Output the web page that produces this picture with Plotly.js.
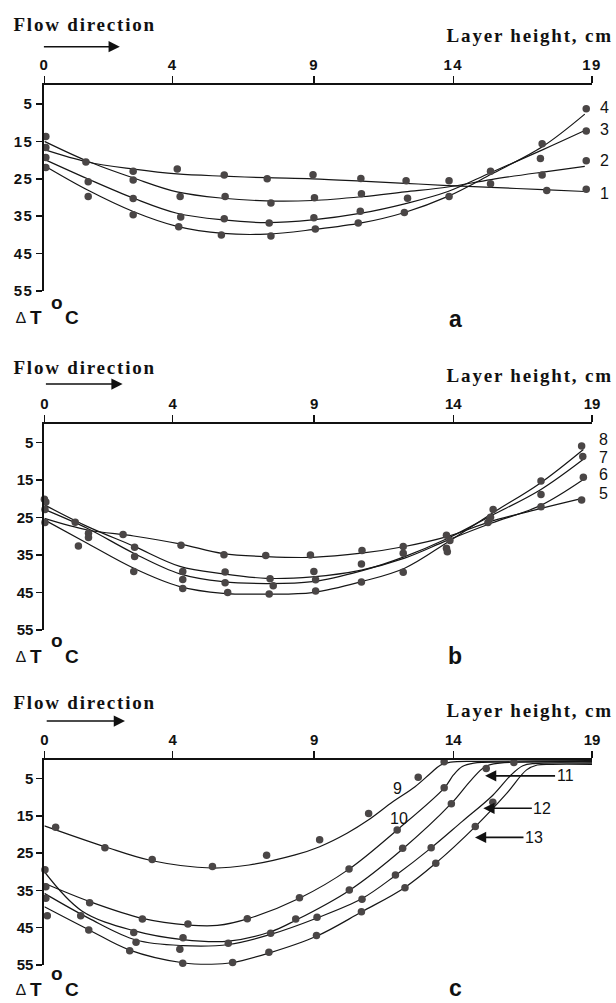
<!DOCTYPE html>
<html>
<head>
<meta charset="utf-8">
<script src="https://cdn.plot.ly/plotly-3.0.1.min.js"></script>
<style>
html,body{margin:0;padding:0;background:#fff;}
#chart{width:616px;height:1003px;}
.xtick text,.ytick text{letter-spacing:1.5px;}
</style>
</head>
<body>
<div id="chart"></div>
<script>
// ---------- tick labels ----------
const xTickLabels = ['0', '4', '9', '14', '19'];
const xTickValues = [0, 4.45, 9.36, 14.19, 19];
const yTickValues = [5, 15, 25, 35, 45, 55];

// ---------- panel a : fitted curves ----------
const aCurveX = [0, 1.5, 3.1, 4.6, 6.2, 7.7, 9.3, 11, 12.5, 14, 15.5, 17.3, 18.75];
const aCurve1 = [17.2, 20.5, 22.4, 23.7, 24.3, 24.7, 25.0, 25.6, 26.2, 26.8, 27.3, 27.9, 28.4];
const aCurve2 = [15.0, 20.3, 24.8, 28.5, 30.2, 30.9, 30.8, 29.8, 28.5, 27.2, 25.2, 23.2, 21.7];
const aCurve3 = [19.8, 25.0, 30.2, 34.2, 36.0, 36.7, 36.0, 34.2, 31.7, 28.4, 23.3, 17.2, 12.1];
const aCurve4 = [21.5, 28.0, 33.8, 37.7, 39.6, 39.8, 38.6, 36.8, 34.0, 29.7, 23.8, 16.3, 7.7];
// panel a : measured points
const aPts1X = [0.05, 1.44, 3.08, 4.61, 6.24, 7.73, 9.32, 10.98, 12.55, 14.04, 17.43, 18.8];
const aPts1Y = [16.6, 20.5, 23.0, 22.4, 24.0, 25.0, 23.9, 24.9, 25.5, 25.5, 28.1, 27.8];
const aPts2X = [0.05, 3.08, 4.71, 6.27, 7.86, 9.37, 11.0, 15.48, 17.27, 18.8];
const aPts2Y = [13.7, 25.3, 29.7, 29.7, 31.5, 30.1, 29.0, 26.3, 24.0, 20.2];
const aPts3X = [0.05, 1.52, 3.08, 4.73, 6.24, 7.80, 9.35, 10.96, 12.60, 15.48, 17.21, 18.8];
const aPts3Y = [19.3, 25.8, 30.3, 35.2, 35.7, 36.8, 35.4, 33.7, 30.2, 23.0, 19.6, 12.2];
const aPts4X = [0.05, 1.52, 3.08, 4.66, 6.14, 7.86, 9.40, 10.89, 12.49, 14.04, 17.27, 18.8];
const aPts4Y = [22.0, 29.7, 34.6, 37.8, 40.0, 40.3, 38.4, 36.8, 34.0, 29.7, 15.6, 6.3];

// ---------- panel b : fitted curves ----------
const bCurveX = [0, 1.5, 3.1, 4.7, 6.2, 7.7, 9.3, 11, 12.5, 14, 15.5, 17.2, 18.7];
const bCurve5 = [25.2, 28.3, 29.9, 32.0, 34.6, 35.4, 35.6, 34.5, 32.7, 30.0, 26.0, 22.6, 19.8];
const bCurve6 = [21.6, 27.4, 32.6, 38.0, 40.0, 41.2, 40.8, 39.0, 35.8, 31.0, 26.5, 21.8, 14.8];
const bCurve7 = [22.8, 27.9, 34.5, 40.0, 42.1, 42.6, 42.1, 39.2, 35.4, 30.5, 24.5, 17.6, 9.4];
const bCurve8 = [25.6, 31.9, 38.5, 43.4, 45.2, 45.4, 45.0, 42.1, 38.5, 31.5, 24.0, 15.8, 6.8];
// panel b : measured points
const bPts5X = [0.02, 1.07, 2.73, 4.74, 6.23, 7.68, 9.23, 11.02, 12.45, 13.95, 15.39, 17.23, 18.64];
const bPts5Y = [26.3, 26.2, 29.5, 32.4, 34.9, 35.1, 35.0, 33.8, 32.7, 29.7, 26.3, 22.1, 20.3];
const bPts6X = [0.0, 1.53, 3.13, 4.80, 6.27, 7.83, 9.35, 11.0, 12.45, 14.07, 15.48, 18.7];
const bPts6Y = [20.1, 29.2, 32.9, 39.4, 39.5, 41.3, 39.4, 37.4, 34.5, 31.1, 24.9, 14.2];
const bPts7X = [0.05, 1.53, 3.13, 4.80, 6.27, 7.94, 9.41, 13.98, 15.57, 17.23, 18.68];
const bPts7Y = [20.8, 30.3, 35.4, 41.5, 42.4, 43.2, 41.6, 34.1, 22.8, 18.8, 8.7];
const bPts8X = [0.02, 1.18, 3.10, 4.80, 6.36, 7.80, 9.41, 11.0, 12.45, 13.95, 17.23, 18.64];
const bPts8Y = [22.8, 32.6, 39.4, 43.9, 45.0, 45.4, 44.6, 42.2, 39.6, 33.2, 15.2, 5.9];

// ---------- panel c : fitted curves ----------
const cCurve9X  = [0, 2.1, 3.7, 5.8, 7.1, 8.7, 9.55, 10.5, 11.25, 12.1, 12.86, 13.4, 13.75, 14.1, 15, 17, 19];
const cCurve9Y  = [17.7, 23.3, 27.0, 29.0, 28.2, 25.5, 23.3, 19.7, 16.1, 11.2, 7.2, 3.6, 1.4, 0.6, 0.4, 0.3, 0.2];
const cCurve10X = [0, 1.57, 3.4, 5.0, 6.0, 7.1, 8.85, 10.57, 12.24, 13.87, 14.2, 14.5, 14.9, 16, 19];
const cCurve10Y = [33.1, 38.0, 42.5, 44.3, 44.4, 42.5, 37.1, 29.3, 18.8, 7.6, 4.0, 1.8, 0.9, 0.6, 0.4];
const cCurve11X = [0, 1.3, 3.1, 4.8, 6.4, 7.85, 8.72, 10.58, 12.43, 14.12, 14.8, 15.3, 15.8, 19];
const cCurve11Y = [30.0, 40.5, 45.8, 48.2, 48.6, 46.1, 43.0, 35.0, 23.9, 11.7, 5.5, 1.8, 0.9, 0.6];
const cCurve12X = [0, 1.55, 3.18, 4.8, 6.4, 7.85, 9.46, 11.02, 12.18, 13.42, 14.5, 15.56, 16.2, 16.6, 17.0, 19];
const cCurve12Y = [35.8, 42.5, 48.3, 49.8, 49.5, 46.8, 42.4, 37.2, 31.0, 23.6, 16.5, 9.5, 4.0, 1.6, 1.0, 0.9];
const cCurve13X = [0, 1.55, 2.96, 4.8, 5.8, 6.5, 7.79, 9.44, 11.0, 12.51, 13.58, 14.95, 16.04, 16.73, 17.1, 17.6, 19];
const cCurve13Y = [39.4, 45.6, 51.0, 54.4, 54.8, 54.4, 51.8, 47.3, 40.8, 34.2, 27.7, 17.9, 9.0, 2.7, 1.4, 1.2, 1.2];
// panel c : measured points
const cPts9X  = [0.39, 2.10, 3.74, 5.83, 7.71, 9.55, 11.25, 12.97, 13.87];
const cPts9Y  = [18.1, 23.6, 26.7, 28.6, 25.6, 21.4, 14.4, 4.7, 0.5];
const cPts10X = [0.02, 1.57, 3.40, 4.98, 7.04, 8.85, 10.57, 12.24, 13.87, 14.9];
const cPts10Y = [29.5, 38.3, 42.7, 44.0, 42.6, 37.0, 29.3, 18.8, 7.5, -1.0];
const cPts11X = [0.05, 1.26, 3.10, 4.81, 6.38, 8.72, 10.58, 12.43, 14.12, 15.33, 15.64];
const cPts11Y = [34.0, 41.8, 46.3, 47.7, 49.2, 42.7, 34.9, 23.7, 11.8, 2.3, -0.1];
const cPts12X = [0.05, 3.18, 4.70, 7.85, 9.46, 11.02, 12.18, 13.42, 15.56, 16.29];
const cPts12Y = [37.1, 48.9, 50.8, 46.5, 42.2, 37.4, 30.9, 23.6, 11.4, 0.7];
const cPts13X = [0.10, 1.54, 2.96, 4.80, 6.53, 7.79, 9.44, 11.0, 12.51, 13.58, 14.95, 16.66];
const cPts13Y = [41.8, 45.6, 51.2, 54.5, 54.3, 51.6, 47.1, 40.7, 34.3, 27.7, 17.9, -0.2];

// ---------- curve labels ----------
const aLabels = ['4', '3', '2', '1'];
const bLabels = ['8', '7', '6', '5'];
const panelLetters = ['a', 'b', 'c'];

// ---------- figure ----------
const W = 616, H = 1003;
const fx = p => p / W;
const fy = p => 1 - p / H;
const plotLeft = 44.4, plotRight = 592;
const panelTop = [85.3, 424, 759.8];
const panelBottom = [291, 630, 965];

const LINE = {color: '#161616', width: 1.2, shape: 'spline', smoothing: 1};
const DOT = {size: 7.5, color: '#4a4646'};
const tickFont = {family: 'Liberation Sans, Arial, sans-serif', size: 15, color: '#111', weight: 'bold'};

const traces = [];
function addCurve(ax, x, y) {
  traces.push({x: x, y: y, mode: 'lines', line: LINE, xaxis: 'x' + ax, yaxis: 'y' + ax, hoverinfo: 'skip', showlegend: false});
}
function addPts(ax, x, y) {
  traces.push({x: x, y: y, mode: 'markers', marker: DOT, cliponaxis: false, xaxis: 'x' + ax, yaxis: 'y' + ax, hoverinfo: 'skip', showlegend: false});
}
addCurve('', aCurveX, aCurve1); addCurve('', aCurveX, aCurve2); addCurve('', aCurveX, aCurve3); addCurve('', aCurveX, aCurve4);
addPts('', aPts1X, aPts1Y); addPts('', aPts2X, aPts2Y); addPts('', aPts3X, aPts3Y); addPts('', aPts4X, aPts4Y);
addCurve('2', bCurveX, bCurve5); addCurve('2', bCurveX, bCurve6); addCurve('2', bCurveX, bCurve7); addCurve('2', bCurveX, bCurve8);
addPts('2', bPts5X, bPts5Y); addPts('2', bPts6X, bPts6Y); addPts('2', bPts7X, bPts7Y); addPts('2', bPts8X, bPts8Y);
addCurve('3', cCurve9X, cCurve9Y); addCurve('3', cCurve10X, cCurve10Y); addCurve('3', cCurve11X, cCurve11Y);
addCurve('3', cCurve12X, cCurve12Y); addCurve('3', cCurve13X, cCurve13Y);
addPts('3', cPts9X, cPts9Y); addPts('3', cPts10X, cPts10Y); addPts('3', cPts11X, cPts11Y);
addPts('3', cPts12X, cPts12Y); addPts('3', cPts13X, cPts13Y);

const layout = {
  width: W, height: H,
  margin: {l: 0, r: 0, t: 0, b: 0},
  paper_bgcolor: '#fff', plot_bgcolor: '#fff',
  showlegend: false,
  annotations: []
};
const axisNames = ['', '2', '3'];
axisNames.forEach((s, i) => {
  layout['xaxis' + s] = {
    domain: [fx(plotLeft), fx(plotRight)], range: [0, 19], side: 'top', anchor: 'y' + s,
    showline: true, linecolor: '#111', linewidth: 2, ticks: 'outside', ticklen: 7, tickwidth: 1.5, tickcolor: '#111',
    tickmode: 'array', tickvals: xTickValues, ticktext: xTickLabels, tickfont: tickFont,
    showgrid: false, zeroline: false, fixedrange: true
  };
  layout['yaxis' + s] = {
    domain: [fy(panelBottom[i]), fy(panelTop[i])], range: [55, 0], anchor: 'x' + s,
    showline: true, linecolor: '#111', linewidth: 2, ticks: 'outside', ticklen: 6, tickwidth: 1.5, tickcolor: '#111',
    tickmode: 'array', tickvals: yTickValues, tickfont: tickFont,
    showgrid: false, zeroline: false, fixedrange: true
  };
});

const ann = layout.annotations;
const serifBold = {family: 'Liberation Serif, Times New Roman, serif', size: 19, color: '#111', weight: 'bold'};
const sansBold = {family: 'Liberation Sans, Arial, sans-serif', size: 19, color: '#111', weight: 'bold'};
const numFont = {family: 'Liberation Sans Narrow, Arial Narrow, Liberation Sans, Arial, sans-serif', size: 16, color: '#111'};

const flowY = [25, 367, 702.5];
const arrowY = [46.7, 384, 721];
const arrowX0 = [42.4, 44.4, 45.2];
const arrowX1 = [119.8, 122.6, 125];
const layerY = [35.5, 375, 710];
const dtY = [318, 656, 989];
const letterY = [319, 656, 988];
for (let i = 0; i < 3; i++) {
  ann.push({xref: 'paper', yref: 'paper', x: fx(85), y: fy(flowY[i]), text: 'Flow direction', showarrow: false, font: serifBold, xanchor: 'center', yanchor: 'middle'});
  ann.push({xref: 'paper', yref: 'paper', x: fx(arrowX1[i]), y: fy(arrowY[i]), ax: arrowX0[i] - arrowX1[i], ay: 0, text: '', showarrow: true, arrowhead: 2, arrowsize: 1.5, arrowwidth: 1.5, arrowcolor: '#111'});
  ann.push({xref: 'paper', yref: 'paper', x: fx(530), y: fy(layerY[i]), text: 'Layer height, cm', showarrow: false, font: serifBold, xanchor: 'center', yanchor: 'middle'});
  ann.push({xref: 'paper', yref: 'paper', x: fx(21), y: fy(dtY[i]), text: '\u2206', showarrow: false, font: {family: 'Liberation Sans, Arial, sans-serif', size: 16, color: '#111'}, xanchor: 'center', yanchor: 'middle'});
  ann.push({xref: 'paper', yref: 'paper', x: fx(35.5), y: fy(dtY[i]), text: 'T', showarrow: false, font: sansBold, xanchor: 'center', yanchor: 'middle'});
  ann.push({xref: 'paper', yref: 'paper', x: fx(57), y: fy(dtY[i] - 16), text: 'o', showarrow: false, font: sansBold, xanchor: 'center', yanchor: 'middle'});
  ann.push({xref: 'paper', yref: 'paper', x: fx(72), y: fy(dtY[i]), text: 'C', showarrow: false, font: sansBold, xanchor: 'center', yanchor: 'middle'});
  ann.push({xref: 'paper', yref: 'paper', x: fx(455), y: fy(letterY[i]), text: panelLetters[i], showarrow: false, font: {family: 'Liberation Sans, Arial, sans-serif', size: 23, color: '#111', weight: 'bold'}, xanchor: 'center', yanchor: 'middle'});
}
const aLabelPY = [107, 129.5, 161, 193];
const bLabelPY = [439, 457, 475, 493.5];
aLabels.forEach((t, k) => ann.push({xref: 'paper', yref: 'paper', x: fx(604), y: fy(aLabelPY[k]), text: t, showarrow: false, font: numFont, xanchor: 'center', yanchor: 'middle'}));
bLabels.forEach((t, k) => ann.push({xref: 'paper', yref: 'paper', x: fx(603), y: fy(bLabelPY[k]), text: t, showarrow: false, font: numFont, xanchor: 'center', yanchor: 'middle'}));
ann.push({xref: 'x3', yref: 'y3', x: 12.26, y: 7.7, text: '9', showarrow: false, font: numFont, xanchor: 'center', yanchor: 'middle'});
ann.push({xref: 'x3', yref: 'y3', x: 12.3, y: 15.6, text: '10', showarrow: false, font: numFont, xanchor: 'center', yanchor: 'middle'});
const arrowLabels = ['11', '12', '13'];
const arrowTipX = [15.29, 15.23, 14.94];
const arrowTipY = [4.3, 13.0, 20.8];
const arrowDX = [80, 59, 59];
arrowLabels.forEach((t, k) => ann.push({xref: 'x3', yref: 'y3', x: arrowTipX[k], y: arrowTipY[k], ax: arrowDX[k], ay: 0, text: t, showarrow: true, arrowhead: 2, arrowsize: 1.4, arrowwidth: 1.6, arrowcolor: '#111', font: numFont}));

Plotly.newPlot('chart', traces, layout, {staticPlot: true, displayModeBar: false}).then(() => {
  document.querySelectorAll('.annotation-text').forEach(t => {
    const s = t.textContent;
    if (s === 'Flow direction' || s === 'Layer height, cm') t.style.letterSpacing = '1.8px';
  });
});
</script>
</body>
</html>
